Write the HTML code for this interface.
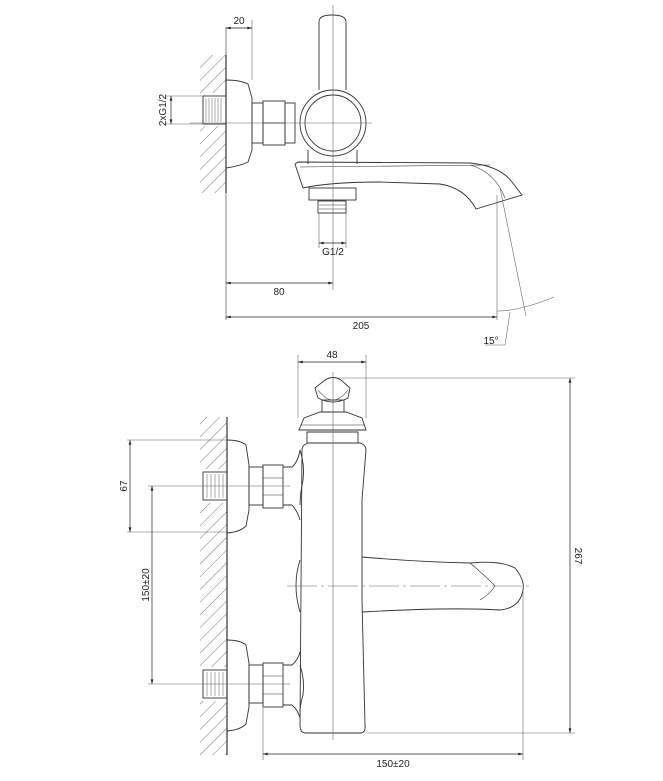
<!DOCTYPE html>
<html><head><meta charset="utf-8"><style>
html,body{margin:0;padding:0;background:#fff;width:663px;height:781px;overflow:hidden}
svg{display:block}
text{font-family:"Liberation Sans",sans-serif;font-size:10px;fill:#222}
</style></head><body>
<svg width="663" height="781" viewBox="0 0 663 781" xmlns="http://www.w3.org/2000/svg">
<defs>
<marker id="a" viewBox="0 0 10 6" refX="10" refY="3" markerWidth="8" markerHeight="4" orient="auto-start-reverse"><path d="M0,0L10,3L0,6z" fill="#222"/></marker>
<pattern id="h" width="9" height="9" patternUnits="userSpaceOnUse" patternTransform="rotate(45)"><line x1="0" y1="0" x2="0" y2="9" stroke="#555" stroke-width="0.8"/></pattern>
</defs>
<g fill="none" stroke="#333" stroke-width="0.9">
<!-- TOP VIEW -->
<rect x="200" y="55" width="26" height="138" fill="url(#h)" stroke="none"/>
<rect x="200" y="93" width="26" height="33" fill="#fff" stroke="none"/>
<line x1="226" y1="27" x2="226" y2="320" stroke="#555" stroke-width="0.7"/>
<line x1="226" y1="55" x2="226" y2="193" stroke-width="1.2"/>
<path d="M226,80 Q240,80 248,84 L252,98 L252,150 L248,162 Q240,166 226,168"/>
<rect x="203" y="96" width="23" height="28"/>
<path d="M206,98v24M209,98v24M212,98v24M215,98v24M218,98v24M221,98v24" stroke-width="0.4"/>
<rect x="252" y="103" width="11" height="40"/>
<rect x="263" y="101" width="22" height="44"/>
<line x1="263" y1="123" x2="285" y2="123"/>
<rect x="285" y="103" width="10" height="40"/>
<circle cx="333" cy="123" r="33"/>
<circle cx="333" cy="123" r="28"/>
<path d="M319,90 L319,22 Q319,15 332,15 Q346,15 346,22 L346,90"/>
<path d="M308,150 L308,164 M357,150 L357,164"/>
<path d="M295,164 L298,162 L470,163 Q500,166 512,182 L522,195 L476,209 Q465,188 440,184 L380,182 Q330,182 303,188 Z"/>
<path d="M300,167 L490,165" stroke-width="0.6"/>
<path d="M470,165 Q495,172 505,198" stroke-width="0.6"/>
<rect x="309" y="188" width="47" height="12"/>
<rect x="318" y="201" width="28" height="12"/>
<path d="M319,205h27M319,209h27" stroke-width="0.5"/>
<g stroke="#666" stroke-width="0.6">
<line x1="333" y1="5" x2="333" y2="290"/>
<line x1="190" y1="123" x2="372" y2="123"/>
<line x1="252" y1="20" x2="252" y2="80"/>
<line x1="319" y1="213" x2="319" y2="248"/>
<line x1="346" y1="213" x2="346" y2="248"/>
<line x1="497" y1="195" x2="497" y2="320"/>
<line x1="500" y1="188" x2="526" y2="316"/>
<path d="M497,311 Q520,311 554,297"/>
<line x1="510" y1="312" x2="505" y2="345"/>
<line x1="485" y1="345" x2="505" y2="345"/>
<line x1="165" y1="96" x2="203" y2="96"/>
<line x1="165" y1="124" x2="203" y2="124"/>
</g>
<g stroke="#222" stroke-width="0.7">
<line x1="226" y1="28" x2="252" y2="28" marker-start="url(#a)" marker-end="url(#a)"/>
<line x1="319" y1="243" x2="346" y2="243" marker-start="url(#a)" marker-end="url(#a)"/>
<line x1="226" y1="283" x2="333" y2="283" marker-start="url(#a)" marker-end="url(#a)"/>
<line x1="226" y1="317" x2="497" y2="317" marker-start="url(#a)" marker-end="url(#a)"/>
<line x1="171" y1="96" x2="171" y2="124" marker-start="url(#a)" marker-end="url(#a)"/>
</g>
<!-- BOTTOM VIEW -->
<rect x="200" y="417" width="27" height="338" fill="url(#h)" stroke="none"/>
<rect x="200" y="469" width="27" height="34" fill="#fff" stroke="none"/>
<rect x="200" y="667" width="27" height="34" fill="#fff" stroke="none"/>
<line x1="227" y1="417" x2="227" y2="755" stroke-width="1.2"/>
<path d="M227,440 Q240,440 246,445 L249,465 L249,510 L246,526 Q240,532 227,533"/>
<path d="M227,640 Q240,640 246,645 L249,663 L249,707 L246,724 Q240,730 227,731"/>
<rect x="203" y="472" width="24" height="28"/>
<rect x="203" y="670" width="24" height="28"/>
<path d="M207,474v24M211,474v24M215,474v24M219,474v24M223,474v24M207,672v24M211,672v24M215,672v24M219,672v24M223,672v24" stroke-width="0.4"/>
<rect x="249" y="467" width="14" height="38"/>
<rect x="263" y="465" width="20" height="43"/>
<path d="M263,478h20M263,495h20" stroke-width="0.6"/>
<rect x="249" y="665" width="14" height="38"/>
<rect x="263" y="663" width="20" height="44"/>
<path d="M263,676h20M263,694h20" stroke-width="0.6"/>
<path d="M283,467 L292,467 Q298,462 300,450 M283,505 L292,505 Q298,512 300,520 M283,665 L292,665 Q298,660 300,652 M283,705 L292,705 Q298,710 300,718"/>
<path d="M300,450 Q305,465 303,480 Q300,495 300,505"/>
<path d="M300,665 Q305,680 303,695 Q300,705 300,712"/>
<path d="M300,560 Q292,585 300,612"/>
<path d="M302,450 L300,725 Q300,733 306,733 L360,733 Q366,733 365,725 L362,600 L362,500 L366,450 Q366,445 360,443 L308,443 Q302,445 302,450"/>
<path d="M307,443 L307,432 L358,432 L358,443"/>
<path d="M299,430 L304,418 L320,412 L346,412 L362,418 L366,430 Z"/>
<line x1="301" y1="425" x2="364" y2="425" stroke-width="0.6"/>
<rect x="322" y="400" width="22" height="12"/>
<path d="M315,388 L325,380 Q333,375 341,380 L350,388 L348,398 Q333,406 318,398 Z"/>
<path d="M318,390 Q333,410 348,390" stroke-width="0.6"/>
<path d="M362,557 Q420,562 470,563 Q500,560 515,568 Q525,580 523,590 Q520,608 500,610 Q450,607 362,612"/>
<path d="M470,563 Q490,580 495,586 Q490,594 480,600" stroke-width="0.6"/>
<g stroke="#666" stroke-width="0.6">
<line x1="333" y1="372" x2="333" y2="740"/>
<line x1="287" y1="586" x2="530" y2="586" stroke-dasharray="30,4,3,4"/>
<line x1="187" y1="486" x2="290" y2="486"/>
<line x1="187" y1="684" x2="290" y2="684"/>
<line x1="298" y1="355" x2="298" y2="418"/>
<line x1="366" y1="355" x2="366" y2="418"/>
<line x1="335" y1="378" x2="575" y2="378"/>
<line x1="366" y1="733" x2="575" y2="733"/>
<line x1="263" y1="708" x2="263" y2="760"/>
<line x1="523" y1="590" x2="523" y2="760"/>
<line x1="127" y1="440" x2="227" y2="440"/>
<line x1="127" y1="532" x2="227" y2="532"/>
<line x1="148" y1="486" x2="187" y2="486"/>
<line x1="148" y1="684" x2="187" y2="684"/>
</g>
<g stroke="#222" stroke-width="0.7">
<line x1="298" y1="362" x2="366" y2="362" marker-start="url(#a)" marker-end="url(#a)"/>
<line x1="570" y1="378" x2="570" y2="733" marker-start="url(#a)" marker-end="url(#a)"/>
<line x1="263" y1="754" x2="523" y2="754" marker-start="url(#a)" marker-end="url(#a)"/>
<line x1="130" y1="440" x2="130" y2="532" marker-start="url(#a)" marker-end="url(#a)"/>
<line x1="152" y1="486" x2="152" y2="684" marker-start="url(#a)" marker-end="url(#a)"/>
</g>
</g>
<text x="239" y="24" text-anchor="middle">20</text>
<text x="333" y="255" text-anchor="middle">G1/2</text>
<text x="279" y="295" text-anchor="middle">80</text>
<text x="361" y="329" text-anchor="middle">205</text>
<text x="491" y="344" text-anchor="middle">15°</text>
<text transform="translate(166,110) rotate(-90)" text-anchor="middle">2xG1/2</text>
<text x="332" y="358" text-anchor="middle">48</text>
<text x="393" y="767" text-anchor="middle">150±20</text>
<text transform="translate(575,556) rotate(90)" text-anchor="middle">267</text>
<text transform="translate(127,486) rotate(-90)" text-anchor="middle">67</text>
<text transform="translate(149,585) rotate(-90)" text-anchor="middle">150±20</text>
</svg>
</body></html>
